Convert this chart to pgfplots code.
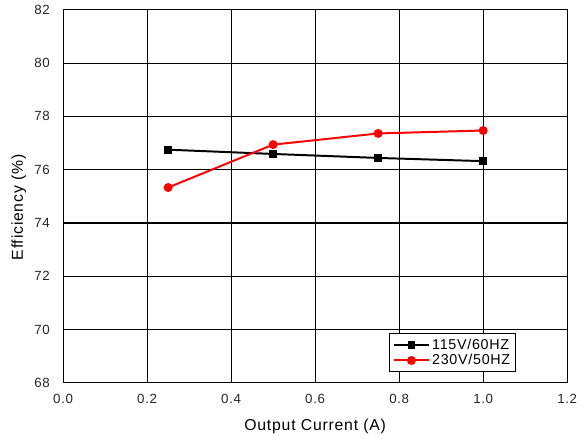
\documentclass[border=0pt]{standalone}
\usepackage{pgfplots}
\pgfplotsset{compat=1.18}
\usepackage{fontspec}
\setmainfont{Liberation Sans}[LetterSpace=5]
\begin{document}
\begin{tikzpicture}
\begin{axis}[
  name=ax,
  scale only axis,
  width=511pt, height=378pt,
  xmin=0, xmax=1.2, ymin=68, ymax=82,
  xtick={0,0.2,...,1.2}, ytick={68,70,...,82},
  xticklabel style={yshift=-8pt, /pgf/number format/.cd,fixed,fixed zerofill,precision=1},
  /pgf/number format/assume math mode=true,
  tick style={draw=none},
  grid=major,
  grid style={black, line width=1.2pt},
  axis line style={black, line width=1.2pt},
  font=\fontsize{13}{15}\selectfont,
  tick label style={font=\fontsize{13.5}{15}\selectfont, color=black!85},
  yticklabel style={xshift=-10pt},
  xlabel={Output Current (A)},
  ylabel={Efficiency (\%)},
  xlabel style={font=\fontsize{16}{18}\selectfont, at={(axis description cs:0.5,-0.116)}, anchor=center},
  ylabel style={font=\fontsize{16}{18}\selectfont, at={(axis description cs:-0.088,0.47)}, anchor=center},
  legend style={at={(0.898,0.029)}, anchor=south east, draw=black, line width=1.2pt,
    font=\fontsize{14.5}{16}\selectfont, inner sep=3pt, row sep=0pt,
    /tikz/every even column/.append style={column sep=1pt}},
  legend cell align=left,
  legend image code/.code={\draw[mark repeat=2,mark phase=2] plot coordinates {(0pt,0pt) (18pt,0pt) (36pt,0pt)};},
]
\addplot[black, line width=2pt, mark=square*, mark size=3pt, mark options={solid}] coordinates {
 (0.25,76.75) (0.5,76.59) (0.75,76.44) (1.0,76.32)
};
\addlegendentry{115V/60HZ}
\addplot[red, line width=2pt, mark=*, mark size=3.5pt] coordinates {
 (0.25,75.33) (0.5,76.94) (0.75,77.36) (1.0,77.47)
};
\addlegendentry{230V/50HZ}
\end{axis}
\pgfresetboundingbox
\path[use as bounding box] ([xshift=-64pt,yshift=-57pt]ax.south west) rectangle ([xshift=14pt,yshift=10pt]ax.north east);
\end{tikzpicture}
\end{document}
